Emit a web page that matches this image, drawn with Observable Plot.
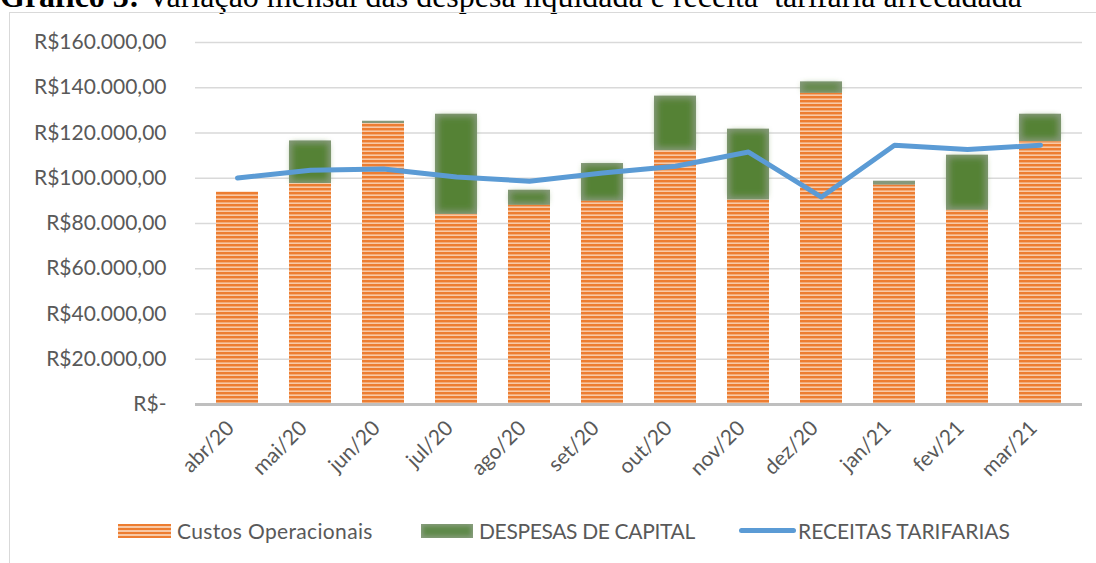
<!DOCTYPE html>
<html>
<head>
<meta charset="utf-8">
<script src="https://cdn.jsdelivr.net/npm/d3@7"></script>
<script src="https://cdn.jsdelivr.net/npm/@observablehq/plot@0.6"></script>
<style>
  html, body { margin: 0; padding: 0; background: #fff; }
  #wrap { position: relative; width: 1096px; height: 563px; overflow: hidden; background: #fff; }
  #title { position: absolute; left: 0; top: -20px; font-family: "Liberation Serif", "Times New Roman", serif; font-size: 32px; line-height: 32px; color: #000; white-space: pre; }
  #frame { position: absolute; left: 9px; top: 12px; width: 1200px; height: 700px; border: 1.5px solid #d9d9d9; box-sizing: border-box; }
  #chart { position: absolute; left: 0; top: 0; }
  .leg { position: absolute; font-family: Lato, sans-serif; font-size: 21px; color: #595959; line-height: 21px; white-space: nowrap; }
  .sw { position: absolute; }
</style>
</head>
<body>
<div id="wrap">
  <div id="title"><b>Gráfico 3:</b> Variação mensal das despesa liquidada e receita  tarifaria arrecadada</div>
  <div id="frame"></div>
  <div id="chart"></div>
  <div class="sw" style="left:118px;top:524px;width:53px;height:14px;background:repeating-linear-gradient(to bottom,#ED7D31 0px,#ED7D31 2.4px,#F8C9A6 2.4px,#F8C9A6 4px);"></div>
  <div class="leg" style="left:177px;top:520px;letter-spacing:0.35px;">Custos Operacionais</div>
  <div class="sw" style="left:421px;top:524px;width:52px;height:14px;background:#5f8a4a;box-shadow:inset 0 0 4px 2px #8a9e80;"></div>
  <div class="leg" style="left:479px;top:520px;letter-spacing:-0.35px;">DESPESAS DE CAPITAL</div>
  <div class="sw" style="left:739px;top:528px;width:57px;height:5px;border-radius:3px;background:#5B9BD5;"></div>
  <div class="leg" style="left:798px;top:520px;">RECEITAS TARIFARIAS</div>
</div>
<script>
const months = ["abr/20","mai/20","jun/20","jul/20","ago/20","set/20","out/20","nov/20","dez/20","jan/21","fev/21","mar/21"];
const custosOperacionais = [93900, 97600, 124200, 84000, 88000, 89800, 112100, 90300, 137500, 96900, 85800, 116100];
const despesasCapital = [0, 18900, 1000, 44300, 6700, 16700, 24200, 31400, 5100, 1800, 24400, 12200];
const receitasTarifarias = [100100, 103500, 104100, 100600, 98700, 102300, 105300, 111600, 91700, 114600, 112700, 114600];
const yTicks = [0, 20000, 40000, 60000, 80000, 100000, 120000, 140000, 160000];
const yTickLabels = ["R$-", "R$20.000,00", "R$40.000,00", "R$60.000,00", "R$80.000,00", "R$100.000,00", "R$120.000,00", "R$140.000,00", "R$160.000,00"];

const rows = months.map((m, i) => ({
  month: m,
  custos: custosOperacionais[i],
  capital: despesasCapital[i],
  top: custosOperacionais[i] + despesasCapital[i],
  receitas: receitasTarifarias[i]
}));

const chart = Plot.plot({
  width: 1096,
  height: 500,
  marginTop: 42,
  marginBottom: 96,
  marginLeft: 195,
  marginRight: 14,
  style: { fontFamily: "Lato, sans-serif", fontSize: "21px", color: "#595959", background: "transparent", overflow: "visible" },
  x: { domain: months, paddingInner: 0.42, paddingOuter: 0.21, label: null },
  y: { domain: [0, 160000], label: null },
  marks: [
    Plot.gridY(yTicks.slice(1), { stroke: "#d9d9d9", strokeOpacity: 1, strokeWidth: 1.3 }),
    Plot.axisY(yTicks, { tickSize: 0, tickPadding: 29, tickFormat: (d) => yTickLabels[yTicks.indexOf(d)], label: null }),
    Plot.axisX({ tickSize: 0, tickPadding: 20, dx: -7, tickRotate: -45, label: null }),
    Plot.barY(rows, { x: "month", y1: "custos", y2: "top", fill: "#86997b" }),
    Plot.barY(rows, { x: "month", y1: "custos", y2: "top", fill: "#548235", ariaDescription: "capital-soft" }),
    Plot.barY(rows, { x: "month", y1: 0, y2: "custos", fill: "url(#stripes)" }),
    Plot.ruleY([0], { stroke: "#bfbfbf", strokeWidth: 3 }),
    Plot.line(rows, { x: "month", y: "receitas", stroke: "#5B9BD5", strokeWidth: 5, strokeLinecap: "round", strokeLinejoin: "round" })
  ]
});

chart.insertAdjacentHTML("afterbegin", `
<defs>
  <pattern id="stripes" patternUnits="userSpaceOnUse" width="8" height="4" y="0">
    <rect x="0" y="0" width="8" height="4" fill="#ED7D31"></rect>
    <rect x="0" y="2.4" width="8" height="1.6" fill="#F8C9A6"></rect>
  </pattern>
  <filter id="soft" x="-20%" y="-20%" width="140%" height="140%">
    <feMorphology in="SourceGraphic" operator="erode" radius="3" result="er"></feMorphology>
    <feGaussianBlur in="er" stdDeviation="3"></feGaussianBlur>
  </filter>
</defs>`);
const soft = chart.querySelector('g[aria-description="capital-soft"]');
if (soft) soft.setAttribute("filter", "url(#soft)");

document.getElementById("chart").appendChild(chart);
</script>
</body>
</html>
